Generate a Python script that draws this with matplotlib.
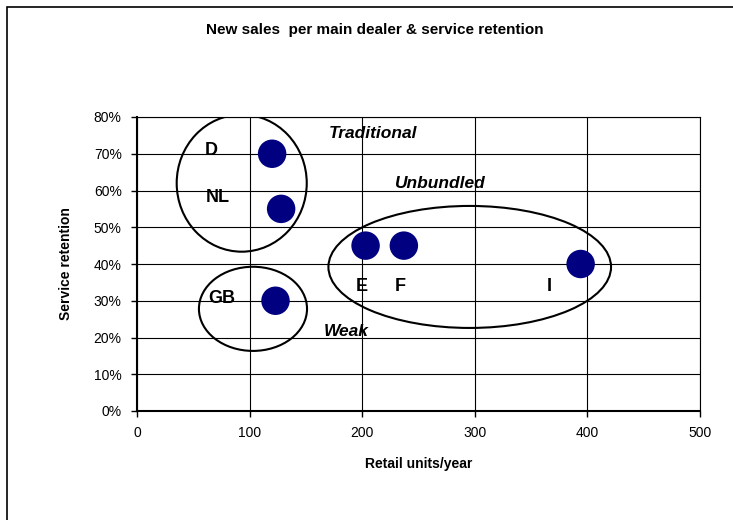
import matplotlib.pyplot as plt
from matplotlib.patches import Ellipse, Rectangle
from matplotlib.ticker import PercentFormatter

plt.rcParams['font.family'] = ['Liberation Sans', 'DejaVu Sans']

# dealer data
countries = ['D', 'NL', 'GB', 'E', 'F', 'I']
retail_units = [120, 128, 123, 203, 237, 394]
retention = [0.70, 0.55, 0.30, 0.45, 0.45, 0.40]

# label positions for the country codes
label_x = [66, 72, 75, 200, 234, 366]
label_y = [0.71, 0.58, 0.305, 0.34, 0.34, 0.34]

# groups: name, ellipse centre x, centre y, width, height, text x, text y
groups = ['Traditional', 'Unbundled', 'Weak']
grp_cx = [93, 295.5, 103]
grp_cy = [0.62, 0.392, 0.278]
grp_w = [115.5, 251, 96]
grp_h = [0.373, 0.332, 0.229]
grp_tx = [210, 269, 186]
grp_ty = [0.756, 0.618, 0.215]

fig = plt.figure(figsize=(7.33, 5.2), dpi=100)
# outer frame, only left and top edge fall inside the picture
fig.patches.append(Rectangle((7/733, -0.1), 1.2, 1.1 - 7/520, transform=fig.transFigure,
                             fill=False, edgecolor='black', linewidth=1.2))
ax = fig.add_axes([137/733, 109/520, 563/733, 294/520])

ax.scatter(retail_units, retention, s=420, color='#000080', zorder=3, edgecolors='none')

for c, x, y in zip(countries, label_x, label_y):
    ax.text(x, y, c, fontsize=13, fontweight='bold', ha='center', va='center', zorder=4)

for g, cx, cy, w, h, tx, ty in zip(groups, grp_cx, grp_cy, grp_w, grp_h, grp_tx, grp_ty):
    ax.add_patch(Ellipse((cx, cy), w, h, fill=False, edgecolor='black', linewidth=1.5, zorder=2))
    ax.text(tx, ty, g, fontsize=12.5, fontweight='bold', fontstyle='italic', ha='center', va='center', zorder=4)

ax.set_xlim(0, 500)
ax.set_ylim(0, 0.8)
ax.set_xticks(range(0, 501, 100))
ax.set_yticks([i / 10 for i in range(9)])
ax.yaxis.set_major_formatter(PercentFormatter(1.0, decimals=0))
ax.grid(True, color='black', linewidth=0.8)
ax.set_axisbelow(True)
ax.tick_params(labelsize=10, length=4, width=1, direction='out', pad=7)
for side in ['top', 'right']:
    ax.spines[side].set_linewidth(0.8)
for side in ['left', 'bottom']:
    ax.spines[side].set_linewidth(1.5)

ax.set_xlabel('Retail units/year', fontsize=10, fontweight='bold', labelpad=12)
ax.set_ylabel('Service retention', fontsize=10, fontweight='bold', labelpad=15)

fig.text(375/733, 1 - 30/520, 'New sales  per main dealer & service retention', fontsize=11,
         fontweight='bold', ha='center', va='center')

fig.savefig('out.png', dpi=100)
